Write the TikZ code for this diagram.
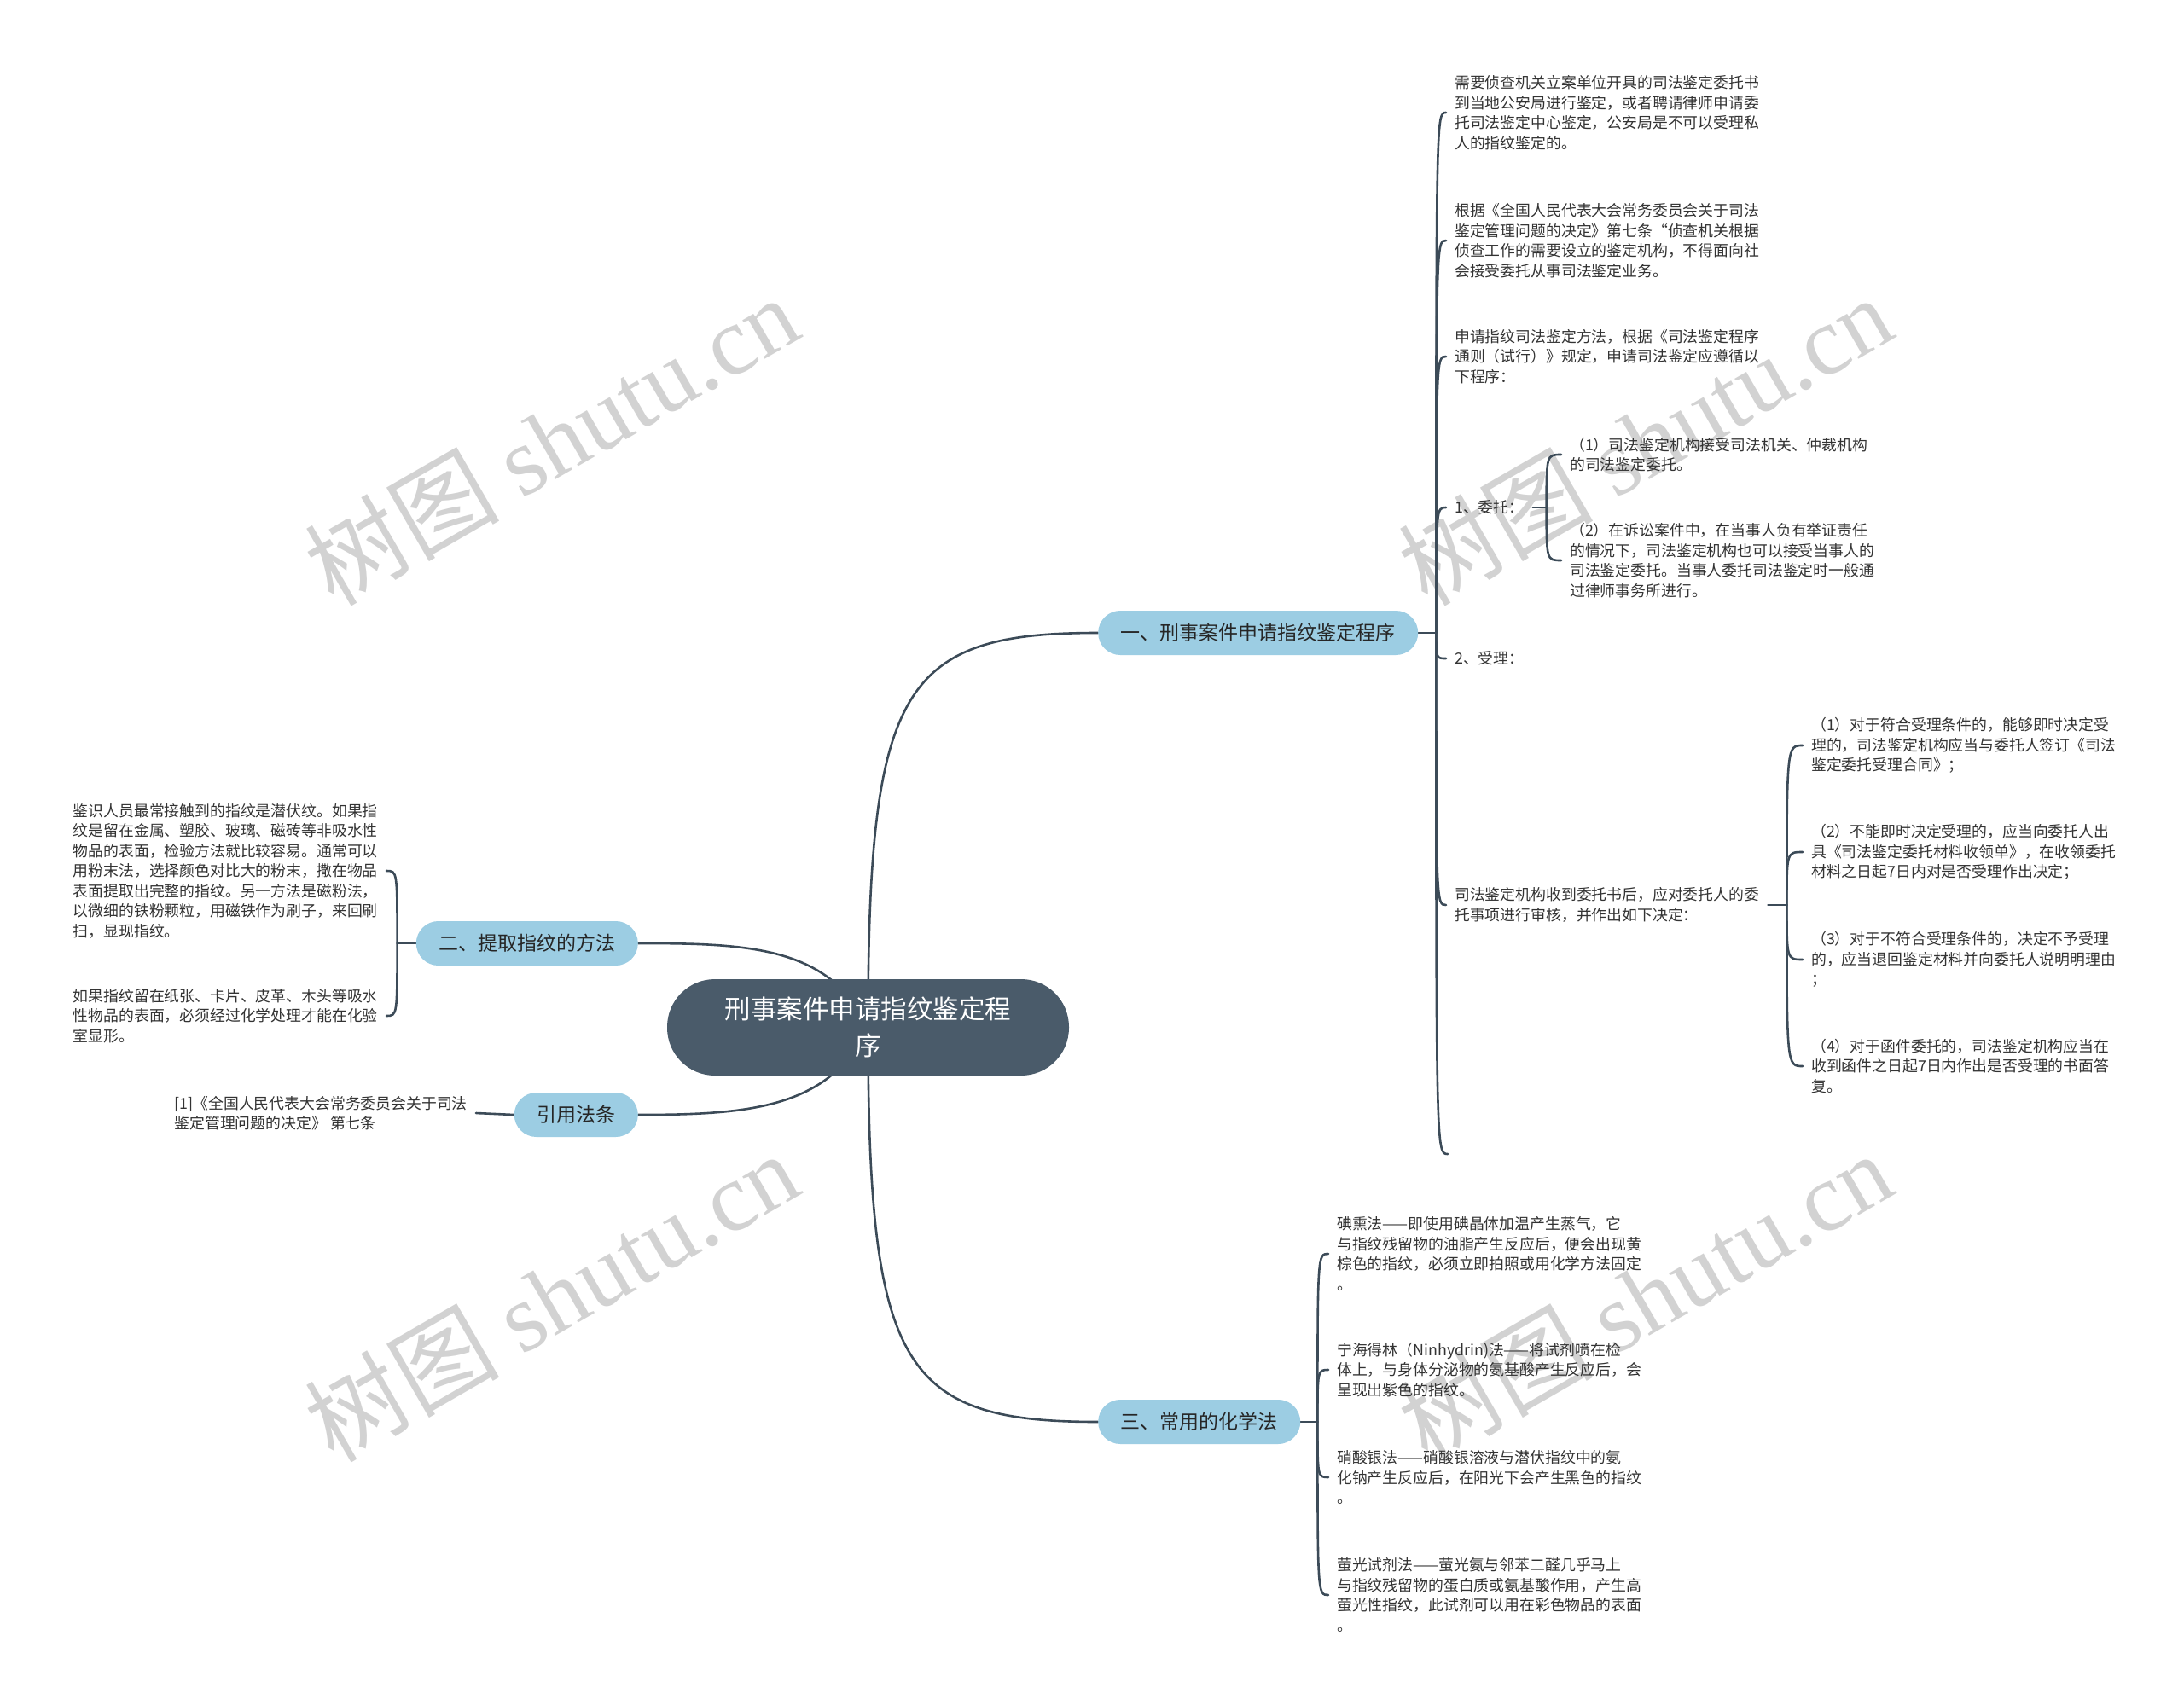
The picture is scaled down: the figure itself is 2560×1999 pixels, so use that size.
\documentclass[tikz,border=0pt]{standalone}
\usepackage{fontspec}
\setmainfont{Noto Sans CJK SC}
\newfontfamily\wmfont{Liberation Serif}
\usetikzlibrary{backgrounds}
\definecolor{rootfill}{RGB}{74,91,106}
\definecolor{topicfill}{RGB}{156,205,227}
\definecolor{linkcol}{RGB}{60,75,88}
\definecolor{leaftext}{RGB}{51,51,51}
\definecolor{wmcol}{RGB}{210,210,210}
\begin{document}
\begin{tikzpicture}[x=1pt, y=-1pt,
  root/.style={fill=rootfill, text=white, rounded corners=56pt, minimum width=471pt, minimum height=113pt, align=center, font=\fontsize{30.5}{43}\selectfont},
  topic/.style={fill=topicfill, text=black!85, rounded corners=26pt, minimum height=52pt, inner xsep=26.5pt, font=\fontsize{23}{28}\selectfont},
  leaf/.style={text=leaftext, align=left, inner xsep=10pt, inner ysep=2pt, font=\fontsize{17.85}{23.5}\selectfont},
  link/.style={draw=linkcol, line width=2.6pt, line cap=round},
  wmark/.style={text=wmcol, rotate=30, font=\fontsize{114}{118}\selectfont}]

\useasboundingbox (0,0) rectangle (2560,1999);

\node[root] (root) at (1017.5,1204.5) {刑事案件申请指纹鉴定程\\序};

\node[topic, anchor=west] (b1) at (1287,742) {一、刑事案件申请指纹鉴定程序};
\node[topic, anchor=east] (b2) at (748,1106) {二、提取指纹的方法};
\node[topic, anchor=west] (b3) at (1287,1667) {三、常用的化学法};
\node[topic, anchor=east] (b4) at (748,1307) {引用法条};

\node[leaf, anchor=west] (c1) at (1695,132) {需要侦查机关立案单位开具的司法鉴定委托书\\到当地公安局进行鉴定，或者聘请律师申请委\\托司法鉴定中心鉴定，公安局是不可以受理私\\人的指纹鉴定的。};
\node[leaf, anchor=west] (c2) at (1695,282) {根据《全国人民代表大会常务委员会关于司法\\鉴定管理问题的决定》第七条“侦查机关根据\\侦查工作的需要设立的鉴定机构，不得面向社\\会接受委托从事司法鉴定业务。};
\node[leaf, anchor=west] (c3) at (1695,418) {申请指纹司法鉴定方法，根据《司法鉴定程序\\通则（试行）》规定，申请司法鉴定应遵循以\\下程序：};
\node[leaf, anchor=west] (c4) at (1695,595) {1、委托：};
\node[leaf, anchor=west] (c4a) at (1830,533) {（1）司法鉴定机构接受司法机关、仲裁机构\\的司法鉴定委托。};
\node[leaf, anchor=west] (c4b) at (1830,657) {（2）在诉讼案件中，在当事人负有举证责任\\的情况下，司法鉴定机构也可以接受当事人的\\司法鉴定委托。当事人委托司法鉴定时一般通\\过律师事务所进行。};
\node[leaf, anchor=west] (c5) at (1695,772) {2、受理：};
\node[leaf, anchor=west] (c6) at (1695,1061) {司法鉴定机构收到委托书后，应对委托人的委\\托事项进行审核，并作出如下决定：};
\node[leaf, anchor=west] (c6a) at (2113,874) {（1）对于符合受理条件的，能够即时决定受\\理的，司法鉴定机构应当与委托人签订《司法\\鉴定委托受理合同》；};
\node[leaf, anchor=west] (c6b) at (2113,999) {（2）不能即时决定受理的，应当向委托人出\\具《司法鉴定委托材料收领单》，在收领委托\\材料之日起7日内对是否受理作出决定；};
\node[leaf, anchor=west] (c6c) at (2113,1125) {（3）对于不符合受理条件的，决定不予受理\\的，应当退回鉴定材料并向委托人说明明理由\\；};
\node[leaf, anchor=west] (c6d) at (2113,1250) {（4）对于函件委托的，司法鉴定机构应当在\\收到函件之日起7日内作出是否受理的书面答\\复。};
\coordinate (c7) at (1697,1353);

\node[leaf, anchor=east] (d1) at (453,1021) {鉴识人员最常接触到的指纹是潜伏纹。如果指\\纹是留在金属、塑胶、玻璃、磁砖等非吸水性\\物品的表面，检验方法就比较容易。通常可以\\用粉末法，选择颜色对比大的粉末，撒在物品\\表面提取出完整的指纹。另一方法是磁粉法，\\以微细的铁粉颗粒，用磁铁作为刷子，来回刷\\扫，显现指纹。};
\node[leaf, anchor=east] (d2) at (453,1191) {如果指纹留在纸张、卡片、皮革、木头等吸水\\性物品的表面，必须经过化学处理才能在化验\\室显形。};

\node[leaf, anchor=east] (r1) at (558,1305) {[1]《全国人民代表大会常务委员会关于司法\\鉴定管理问题的决定》 第七条};

\node[leaf, anchor=west] (e1) at (1557,1470) {碘熏法——即使用碘晶体加温产生蒸气，它\\与指纹残留物的油脂产生反应后，便会出现黄\\棕色的指纹，必须立即拍照或用化学方法固定\\。};
\node[leaf, anchor=west] (e2) at (1557,1606) {宁海得林（Ninhydrin)法——将试剂喷在检\\体上，与身体分泌物的氨基酸产生反应后，会\\呈现出紫色的指纹。};
\node[leaf, anchor=west] (e3) at (1557,1732) {硝酸银法——硝酸银溶液与潜伏指纹中的氨\\化钠产生反应后，在阳光下会产生黑色的指纹\\。};
\node[leaf, anchor=west] (e4) at (1557,1870) {萤光试剂法——萤光氨与邻苯二醛几乎马上\\与指纹残留物的蛋白质或氨基酸作用，产生高\\萤光性指纹，此试剂可以用在彩色物品的表面\\。};

\begin{scope}[on background layer]
\fill[white] (0,0) rectangle (2560,1999);
\foreach \wx/\wy [count=\i] in {646/516, 1928/516, 646/1520, 1928/1520}
  \node[wmark] (wm\i) at (\wx,\wy) {树图 {\wmfont shutu.cn}};

\draw[link] (root.center) .. controls +(0,-400) and +(-230,0) .. (b1.west);
\draw[link] (root.center) .. controls +(0,400) and +(-230,0) .. (b3.west);
\draw[link] (root.center) .. controls +(-45,-95) and +(130,0) .. (b2.east);
\draw[link] (root.center) .. controls +(-45,95) and +(130,0) .. (b4.east);

\draw[link] (b1.east) -- ++(21,0) coordinate (s1);
\foreach \c in {c1,c2,c3,c4,c5,c6}
  \draw[link] (s1) .. controls (s1 |- \c.west) .. (\c.west);
\draw[link] (s1) .. controls (s1 |- c7) .. (c7);

\draw[link] (c4.east) -- ++(16,0) coordinate (s4);
\foreach \c in {c4a,c4b}
  \draw[link] (s4) .. controls (s4 |- \c.west) .. (\c.west);

\draw[link] (c6.east) -- ++(22,0) coordinate (s6);
\foreach \c in {c6a,c6b,c6c,c6d}
  \draw[link] (s6) .. controls (s6 |- \c.west) .. (\c.west);

\draw[link] (b2.west) -- ++(-22,0) coordinate (s2);
\foreach \c in {d1,d2}
  \draw[link] (s2) .. controls (s2 |- \c.east) .. (\c.east);

\draw[link] (b4.west) -- (r1.east);

\draw[link] (b3.east) -- ++(20,0) coordinate (s3);
\foreach \c in {e1,e2,e3,e4}
  \draw[link] (s3) .. controls (s3 |- \c.west) .. (\c.west);
\end{scope}

\end{tikzpicture}
\end{document}
